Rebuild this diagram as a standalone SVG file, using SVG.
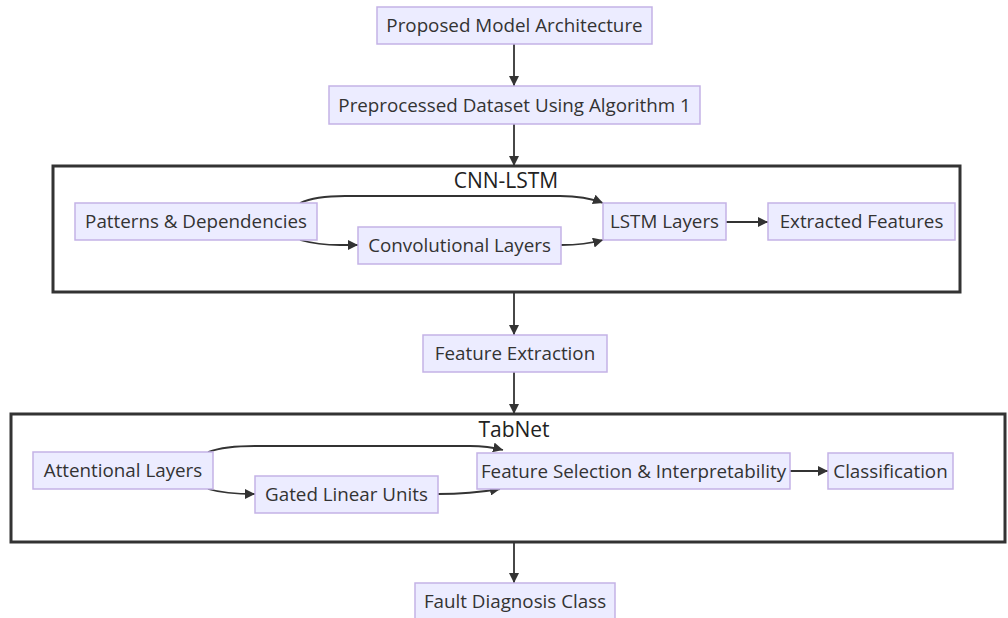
<svg xmlns="http://www.w3.org/2000/svg" width="1008" height="618" viewBox="0 0 1008 618">
<style>
.node rect{fill:#ECECFF;stroke:#C4B2E6;stroke-width:1.5}
.node text{font-family:"Open Sans","DejaVu Sans",sans-serif;font-size:18.8px;fill:#333;text-anchor:middle}
.cluster rect{fill:#fff;stroke:#333;stroke-width:3}
.cluster text{font-family:"Open Sans","DejaVu Sans",sans-serif;font-size:21px;fill:#222;text-anchor:middle}
.edges path{fill:none;stroke:#333;stroke-width:1.8;marker-end:url(#arr)}
</style>
<defs>
<marker id="arr" viewBox="0 0 10 10" refX="10" refY="5" markerWidth="10" markerHeight="10" markerUnits="userSpaceOnUse" orient="auto">
<path d="M0,0 L10,5 L0,10 z" fill="#333"/>
</marker>
</defs>
<rect width="1008" height="618" fill="#fff"/>
<g id="cluster-cnn" class="cluster">
<rect x="53" y="166" width="907" height="126"/>
<text x="506" y="188">CNN-LSTM</text>
</g>
<g id="cluster-tabnet" class="cluster">
<rect x="11" y="414" width="994" height="128"/>
<text x="514" y="437">TabNet</text>
</g>
<g class="edges" id="connectors">
<path d="M514,44 L514,86"/>
<path d="M514,124 L514,166"/>
<path d="M300,203 Q315,196 345,196 L560,196 Q585,196 603,203"/>
<path d="M300,240 Q318,245 340,245 L358,245"/>
<path d="M561,245 Q585,245 603,240"/>
<path d="M726,222 L768,222"/>
<path d="M514,292 L514,335"/>
<path d="M514,372 L514,414"/>
<path d="M208,452 Q225,446 255,446 L470,446 Q488,446 503,450"/>
<path d="M208,489 Q225,494 255,494"/>
<path d="M438,494 Q470,494 500,489"/>
<path d="M790,471 L828,471"/>
<path d="M514,542 L514,583"/>
</g>
<g id="n-proposed" class="node"><rect x="377" y="7" width="275" height="37"/><text x="514.5" y="32">Proposed Model Architecture</text></g>
<g id="n-preprocessed" class="node"><rect x="329" y="86" width="371" height="38"/><text x="514.5" y="111.5">Preprocessed Dataset Using Algorithm 1</text></g>
<g id="n-patterns" class="node"><rect x="75" y="203" width="242" height="37"/><text x="196" y="228">Patterns &amp; Dependencies</text></g>
<g id="n-conv" class="node"><rect x="358" y="227" width="203" height="37"/><text x="459.5" y="252">Convolutional Layers</text></g>
<g id="n-lstm" class="node"><rect x="603" y="203" width="123" height="37"/><text x="664.5" y="228">LSTM Layers</text></g>
<g id="n-extracted" class="node"><rect x="768" y="203" width="187" height="37"/><text x="861.5" y="228">Extracted Features</text></g>
<g id="n-featextract" class="node"><rect x="423" y="335" width="184" height="37"/><text x="515" y="360">Feature Extraction</text></g>
<g id="n-attentional" class="node"><rect x="33" y="452" width="180" height="37"/><text x="123" y="477">Attentional Layers</text></g>
<g id="n-gated" class="node"><rect x="255" y="476" width="183" height="37"/><text x="346.5" y="501">Gated Linear Units</text></g>
<g id="n-featsel" class="node"><rect x="477" y="453" width="313" height="36"/><text x="633.5" y="477.5">Feature Selection &amp; Interpretability</text></g>
<g id="n-class" class="node"><rect x="828" y="453" width="125" height="36"/><text x="890.5" y="477.5">Classification</text></g>
<g id="n-fault" class="node"><rect x="415" y="583" width="200" height="37"/><text x="515" y="608">Fault Diagnosis Class</text></g>
</svg>
